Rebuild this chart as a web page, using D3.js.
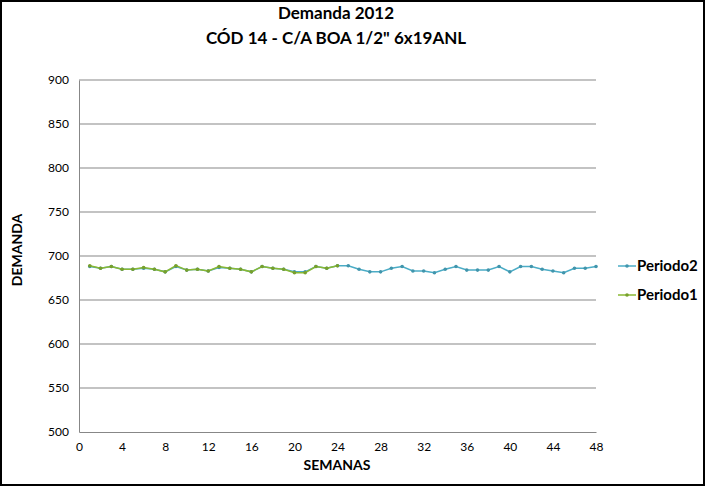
<!DOCTYPE html>
<html>
<head>
<meta charset="utf-8">
<script src="https://cdn.jsdelivr.net/npm/d3@7"></script>
<style>
  body { margin: 0; background: #fff; }
  text { font-family: Lato, "Open Sans", sans-serif; }
</style>
</head>
<body>
<svg id="chart" width="705" height="486"></svg>
<script>
// Data
var weeks1 = d3.range(1, 25);
var weeks2 = d3.range(1, 49);
var periodo1 = [689, 686, 688, 685, 685, 687, 685, 682, 689, 684, 685, 683,
                688, 686, 685, 682, 688, 686, 685, 681, 681, 688, 686, 689];
var periodo2 = [688, 686, 688, 685, 685, 686, 685, 682, 688, 684, 685, 683,
                687, 686, 685, 682, 688, 686, 685, 682, 682, 688, 686, 689,
                689, 685, 682, 682, 686, 688, 683, 683, 681, 685, 688, 684,
                684, 684, 688, 682, 688, 688, 685, 683, 681, 686, 686, 688];
var yTicks = [500, 550, 600, 650, 700, 750, 800, 850, 900];
var xTicks = [0, 4, 8, 12, 16, 20, 24, 28, 32, 36, 40, 44, 48];

var svg = d3.select("#chart"),
  width = +svg.attr("width"),
  height = +svg.attr("height");

// outer border
svg.append("rect")
  .attr("x", 1).attr("y", 1)
  .attr("width", width - 2).attr("height", height - 2)
  .attr("fill", "#fff")
  .attr("stroke", "#000")
  .attr("stroke-width", 2);

var x = d3.scaleLinear().domain([0, 48]).range([79, 596]);
var y = d3.scaleLinear().domain([500, 900]).range([432, 80]);

// gridlines
svg.append("g")
  .selectAll("line")
  .data(yTicks.slice(1))
  .enter().append("line")
  .attr("x1", x(0)).attr("x2", x(48))
  .attr("y1", function(d) { return y(d); })
  .attr("y2", function(d) { return y(d); })
  .attr("stroke", "#878787")
  .attr("stroke-width", 1);

// axes
var xAxis = svg.append("g")
  .attr("transform", "translate(0," + y(500) + ")")
  .call(d3.axisBottom(x).tickValues(xTicks).tickSize(0).tickPadding(10));
xAxis.select(".domain").attr("stroke", "#878787");
xAxis.selectAll("text").attr("font-size", 12).attr("fill", "#000");

var yAxis = svg.append("g")
  .attr("transform", "translate(" + x(0) + ",0)")
  .call(d3.axisLeft(y).tickValues(yTicks).tickSize(0).tickPadding(10));
yAxis.select(".domain").attr("stroke", "#878787");
yAxis.selectAll("text").attr("font-size", 12).attr("fill", "#000");

// lines
var line = d3.line()
  .x(function(d) { return x(d[0]); })
  .y(function(d) { return y(d[1]); });

var series = [
  {name: "Periodo2", color: "#4bacc6", pts: d3.zip(weeks2, periodo2)},
  {name: "Periodo1", color: "#8ab833", pts: d3.zip(weeks1, periodo1)}
];

series.forEach(function(s) {
  svg.append("path")
    .datum(s.pts)
    .attr("fill", "none")
    .attr("stroke", s.color)
    .attr("stroke-width", 1.5)
    .attr("d", line);
  svg.append("g")
    .selectAll("circle")
    .data(s.pts)
    .enter().append("circle")
    .attr("cx", function(d) { return x(d[0]); })
    .attr("cy", function(d) { return y(d[1]); })
    .attr("r", 1.8)
    .attr("fill", d3.color(s.color).darker(0.4));
});

// legend
var legend = svg.append("g")
  .selectAll("g")
  .data(series)
  .enter().append("g")
  .attr("transform", function(d, i) { return "translate(618," + (266 + i * 29) + ")"; });
legend.append("line")
  .attr("x1", 0).attr("x2", 18)
  .attr("stroke", function(d) { return d.color; })
  .attr("stroke-width", 1.5);
legend.append("circle")
  .attr("cx", 9).attr("r", 1.8)
  .attr("fill", function(d) { return d3.color(d.color).darker(0.4); });
legend.append("text")
  .attr("x", 19).attr("dy", "0.35em")
  .attr("font-size", 15).attr("font-weight", "bold")
  .text(function(d) { return d.name; });

// titles
svg.append("text")
  .attr("x", 336).attr("y", 19)
  .attr("text-anchor", "middle")
  .attr("font-size", 17).attr("font-weight", "bold")
  .text("Demanda 2012");
svg.append("text")
  .attr("x", 336).attr("y", 44)
  .attr("text-anchor", "middle")
  .attr("font-size", 17).attr("font-weight", "bold")
  .text("CÓD 14 - C/A BOA 1/2\" 6x19ANL");

svg.append("text")
  .attr("x", 337).attr("y", 470)
  .attr("text-anchor", "middle")
  .attr("font-size", 14).attr("font-weight", "bold")
  .text("SEMANAS");
svg.append("text")
  .attr("transform", "translate(22,250) rotate(-90)")
  .attr("text-anchor", "middle")
  .attr("font-size", 14).attr("font-weight", "bold")
  .text("DEMANDA");
</script>
</body>
</html>
